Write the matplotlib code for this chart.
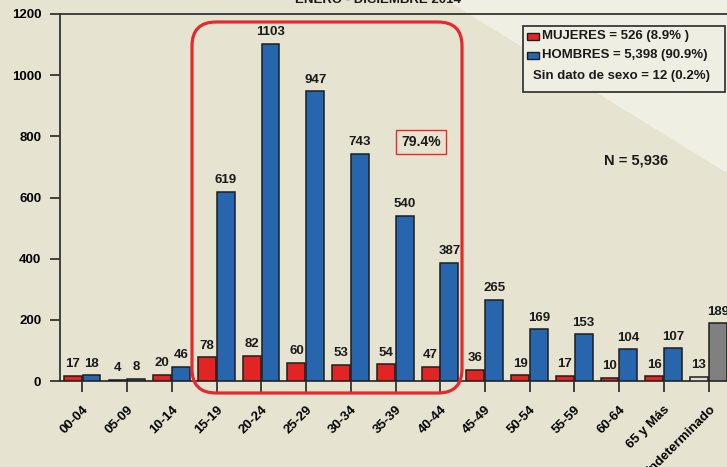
import numpy as np
import matplotlib
matplotlib.use('Agg')
import matplotlib.pyplot as plt
from matplotlib.patches import FancyBboxPatch, Polygon, Rectangle
from matplotlib.transforms import IdentityTransform, ScaledTranslation

plt.rcParams['font.family'] = ['Liberation Sans', 'DejaVu Sans']
plt.rcParams['font.weight'] = 'bold'

# data
grupos = ['00-04', '05-09', '10-14', '15-19', '20-24', '25-29', '30-34', '35-39',
          '40-44', '45-49', '50-54', '55-59', '60-64', '65 y Más', 'Indeterminado']
mujeres = [17, 4, 20, 78, 82, 60, 53, 54, 47, 36, 19, 17, 10, 16, 13]
hombres = [18, 8, 46, 619, 1103, 947, 743, 540, 387, 265, 169, 153, 104, 107, 189]
leyenda = ['MUJERES = 526 (8.9% )', 'HOMBRES = 5,398 (90.9%)', 'Sin dato de sexo = 12 (0.2%)']
titulo = 'ENERO - DICIEMBRE 2014'
pct_box = '79.4%'
total_txt = 'N = 5,936'

beige = '#E6E4D0'
light = '#F0EFE3'
red = '#E32424'
blue = '#2765AC'
edge = '#1E1E1E'

W, H = 727, 467
fig = plt.figure(figsize=(W / 100, H / 100), dpi=100, facecolor=beige)

def px(x, y):
    # image pixel (top-left origin) -> figure fraction
    return x / W, 1 - y / H

# lighter diagonal background
bg = Polygon([px(446, 0), px(727, 0), px(727, 173)], closed=True,
             transform=fig.transFigure, facecolor=light, edgecolor='none', zorder=-10)
fig.patches.append(bg)

ax = fig.add_axes([60 / W, 86 / H, 671 / W, 367 / H])
ax.set_facecolor('none')

x = np.arange(len(grupos)) + 0.5
w = 0.4
col_m = [red] * (len(grupos) - 1) + ['#DCDCDA']
col_h = [blue] * (len(grupos) - 1) + ['#808080']
bm = ax.bar(x - 0.215, mujeres, w, color=col_m, edgecolor=edge, linewidth=1.1, zorder=3)
bh = ax.bar(x + 0.205, hombres, w, color=col_h, edgecolor=edge, linewidth=1.1, zorder=3)

for bars, vals in ((bm, mujeres), (bh, hombres)):
    for b, v in zip(bars, vals):
        ax.annotate(str(v), (b.get_x() + b.get_width() / 2, v), xytext=(0, 4),
                    textcoords='offset points', ha='center', va='bottom',
                    fontsize=9.5, fontweight='bold', color='#1a1a1a', zorder=4,
                    annotation_clip=False)

ax.set_xlim(0, 15)
ax.set_ylim(0, 1200)
ax.set_yticks(range(0, 1201, 200))
ax.set_xticks(x)
ax.set_xticklabels(grupos, rotation=45, ha='right', va='top', rotation_mode='anchor',
                   fontsize=9.5, fontweight='bold')
off = ScaledTranslation(3 / 72, 0, fig.dpi_scale_trans)
for lab in ax.get_xticklabels():
    lab.set_transform(lab.get_transform() + off)
ax.tick_params(axis='x', length=8, width=1.3, color='#333333', pad=8)
ax.tick_params(axis='y', length=7.5, width=1.3, color='#333333', pad=6, labelsize=9.5)
for lab in ax.get_yticklabels():
    lab.set_fontweight('bold')
for s in ('left', 'bottom', 'top'):
    ax.spines[s].set_color('#333333')
    ax.spines[s].set_linewidth(1.3)
ax.spines['right'].set_visible(False)

# title (cut off at the top)
fig.text(378 / W, 1 - 3 / H, titulo, ha='center', va='baseline', fontsize=9.5,
         fontweight='bold', color='#1a1a1a')

# red rounded highlight box (pixel coords)
hb = FancyBboxPatch((192, H - 393), 270, 371,
                    boxstyle='round,pad=0,rounding_size=24',
                    transform=IdentityTransform(), facecolor='none',
                    edgecolor='#E8282C', linewidth=2.3, zorder=5)
fig.patches.append(hb)

fig.text(*px(421, 142), pct_box, ha='center', va='center', fontsize=10,
         fontweight='bold', color='#1a1a1a',
         bbox=dict(boxstyle='square,pad=0.35', facecolor=beige, edgecolor='#E8282C', linewidth=1))

fig.text(*px(636, 161), total_txt, ha='center', va='center', fontsize=10.5,
         fontweight='bold', color='#1a1a1a')

# legend box
lx0, ly0 = px(523, 92)
lx1, ly1 = px(725, 26)
fig.patches.append(Rectangle((lx0, ly0), lx1 - lx0, ly1 - ly0, transform=fig.transFigure,
                             facecolor='#EFEEE2', edgecolor='#2a2a2a', linewidth=1.2, zorder=6))
for (yy, c) in ((36, red), (55, blue)):
    rx, ry = px(527, yy + 3.5)
    fig.patches.append(Rectangle((rx, ry), 12 / W, 7 / H, transform=fig.transFigure,
                                 facecolor=c, edgecolor=edge, linewidth=1, zorder=7))
fig.text(*px(542, 36), leyenda[0], ha='left', va='center', fontsize=9.5, fontweight='bold',
         color='#1a1a1a', zorder=7)
fig.text(*px(542, 55), leyenda[1], ha='left', va='center', fontsize=9.5, fontweight='bold',
         color='#1a1a1a', zorder=7)
fig.text(*px(533, 76), leyenda[2], ha='left', va='center', fontsize=9.5, fontweight='bold',
         color='#1a1a1a', zorder=7)

fig.savefig('out.png', dpi=100, facecolor=beige)
